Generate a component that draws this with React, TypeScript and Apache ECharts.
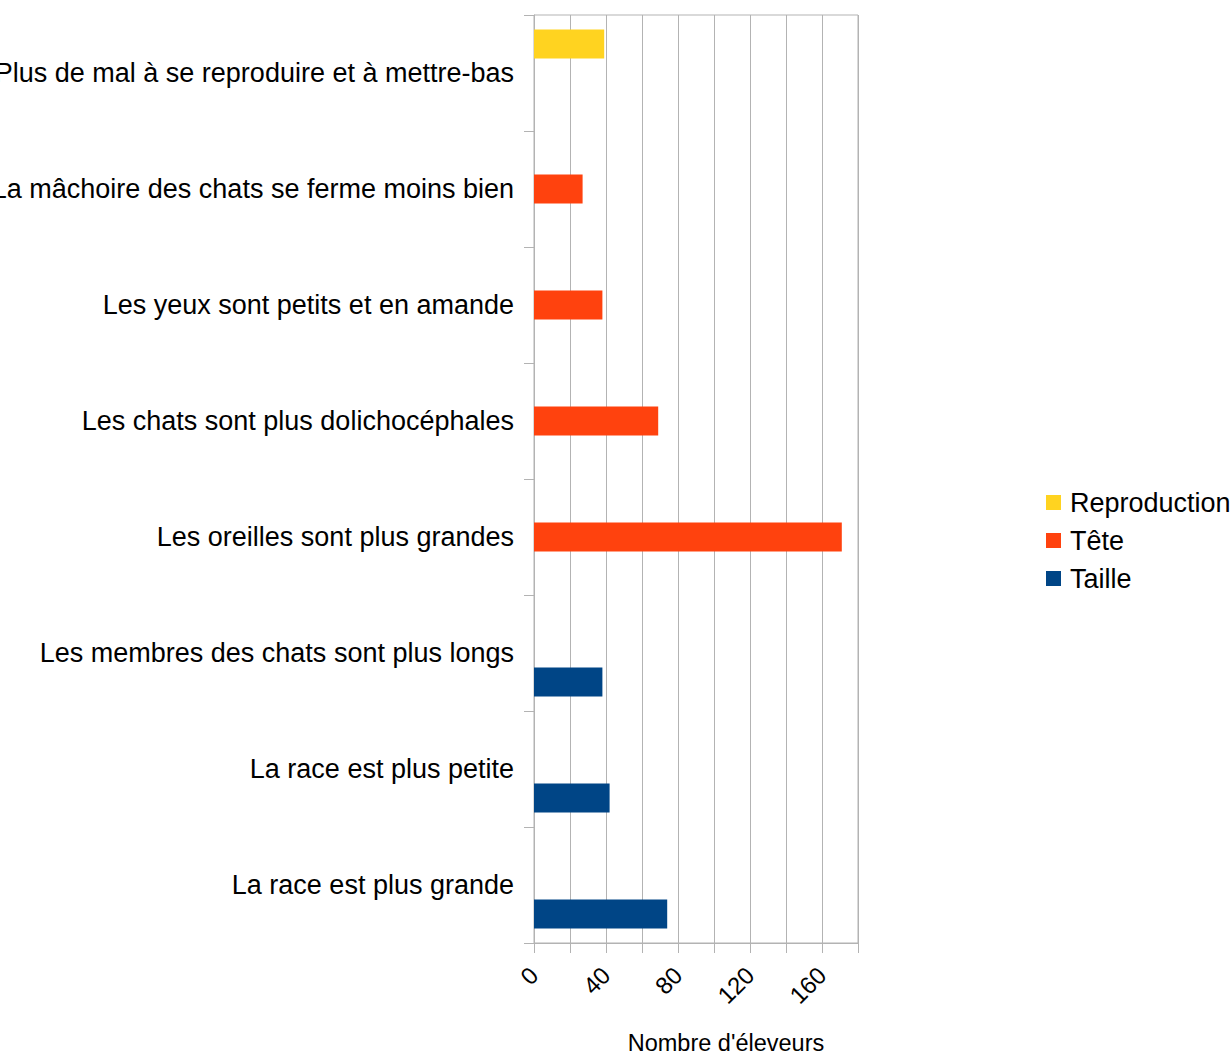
import React, { useEffect, useRef } from "react";
import * as echarts from "echarts";

const categories = [
  "Plus de mal à se reproduire et à mettre-bas",
  "La mâchoire des chats se ferme moins bien",
  "Les yeux sont petits et en amande",
  "Les chats sont plus dolichocéphales",
  "Les oreilles sont plus grandes",
  "Les membres des chats sont plus longs",
  "La race est plus petite",
  "La race est plus grande",
];

const reproduction = [39, null, null, null, null, null, null, null];
const tete = [null, 27, 38, 69, 171, null, null, null];
const taille = [null, null, null, null, null, 38, 42, 74];

const seriesNames = ["Reproduction", "Tête", "Taille"];
const colors = ["#ffd320", "#ff420e", "#004586"];

const FONT = "Liberation Sans, Arial, sans-serif";

export default function App() {
  const ref = useRef<HTMLDivElement>(null);
  useEffect(() => {
    if (!ref.current) return;
    const chart = echarts.init(ref.current, undefined, { renderer: "svg" });
    const data = [reproduction, tete, taille];
    chart.setOption({
      animation: false,
      backgroundColor: "#ffffff",
      textStyle: { fontFamily: FONT },
      grid: {
        left: 534,
        right: 372,
        top: 15,
        bottom: 111,
        containLabel: false,
        outerBoundsMode: "none",
        show: true,
        borderColor: "#b3b3b3",
        borderWidth: 1,
      },
      legend: {
        orient: "vertical",
        left: 1046,
        top: 489,
        padding: 0,
        itemWidth: 15,
        itemHeight: 15,
        itemGap: 11,
        icon: "rect",
        data: seriesNames,
        textStyle: {
          fontFamily: FONT,
          fontSize: 27,
          color: "#000",
          lineHeight: 27,
          padding: [0, 0, 0, 4],
        },
      },
      xAxis: {
        type: "value",
        min: 0,
        max: 180,
        interval: 20,
        name: "Nombre d'éleveurs",
        nameLocation: "middle",
        nameGap: 88,
        nameTextStyle: {
          fontFamily: FONT,
          fontSize: 23.5,
          color: "#000",
          padding: [0, 0, 0, 60],
        },
        axisLine: { show: true, lineStyle: { color: "#b3b3b3" } },
        axisTick: { show: true, length: 10, lineStyle: { color: "#b3b3b3" } },
        splitLine: { show: true, lineStyle: { color: "#b3b3b3", width: 1 } },
        axisLabel: {
          rotate: 45,
          margin: 28,
          fontFamily: FONT,
          fontSize: 24,
          color: "#000",
          showMaxLabel: true,
          formatter: (v: number) => (v % 40 === 0 && v <= 160 ? String(v) : ""),
        },
      },
      yAxis: {
        type: "category",
        inverse: true,
        data: categories,
        axisLine: { show: true, lineStyle: { color: "#b3b3b3" } },
        axisTick: { show: true, length: 10, lineStyle: { color: "#b3b3b3" } },
        splitLine: { show: false },
        axisLabel: {
          margin: 20,
          fontFamily: FONT,
          fontSize: 27,
          color: "#000",
        },
      },
      series: seriesNames.map((name, i) => ({
        name,
        type: "bar",
        data: data[i],
        barGap: "0%",
        barCategoryGap: "25%",
        itemStyle: { color: colors[i] },
      })),
    });
    return () => chart.dispose();
  }, []);
  return (
    <div
      ref={ref}
      style={{ position: "fixed", left: 0, top: 0, width: 1230, height: 1054 }}
    />
  );
}
